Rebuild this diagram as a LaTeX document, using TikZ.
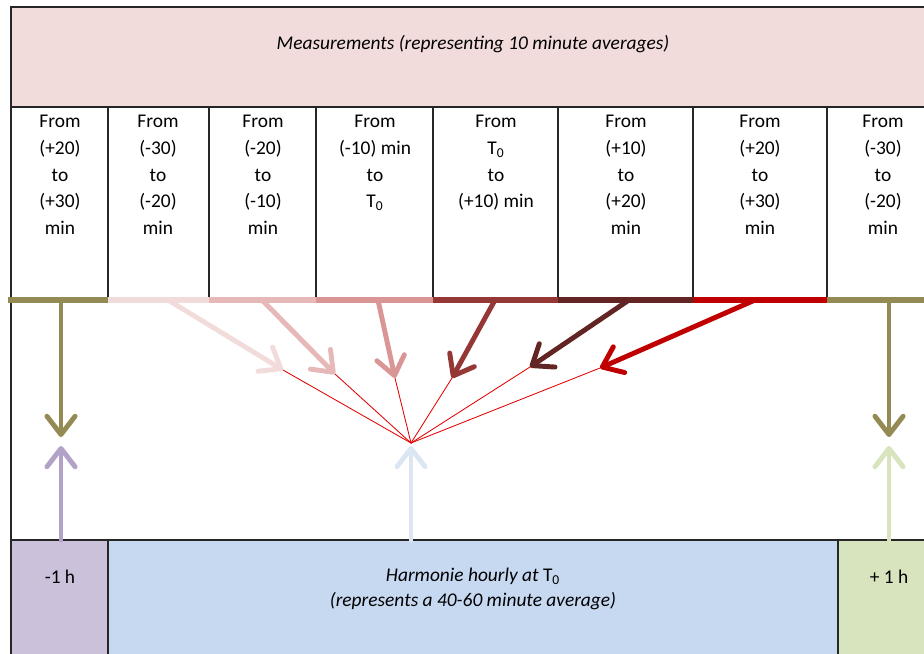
\documentclass[tikz,border=0pt]{standalone}
\usepackage{xcolor}
\usepackage{fontspec}
\setmainfont{Carlito}
\usepackage{tkz-euclide}
\usetikzlibrary{arrows.meta}

\definecolor{olivo}{HTML}{948A54}
\definecolor{rosaA}{HTML}{F2DCDB}
\definecolor{rosaB}{HTML}{E6B9B8}
\definecolor{rosaC}{HTML}{D99694}
\definecolor{rojoA}{HTML}{953735}
\definecolor{rojoB}{HTML}{632523}
\definecolor{rojoC}{HTML}{C00000}
\definecolor{lila}{HTML}{CCC1DA}
\definecolor{lilaF}{HTML}{B3A2C7}
\definecolor{azul}{HTML}{C6D9F1}
\definecolor{azulF}{HTML}{DCE6F2}
\definecolor{verde}{HTML}{D7E4BD}

\tikzset{
  caja/.style={draw=black!85, line width=0.8pt},
  texto/.style={font=\fontsize{13.8}{19}\selectfont, align=center, inner sep=0pt},
  barra/.style={line width=3.6pt},
  flecha/.style={line width=3.5pt, -{Straight Barb[length=13pt,width=20pt,round]}},
  rayo/.style={draw=red!90!black, line width=0.6pt},
}

\begin{document}
\begin{tikzpicture}[x=0.025cm, y=-0.025cm]
        \useasboundingbox (0,0) rectangle (924,653);

        % Paso 1: Dibuja las cajas de las mediciones
        \draw[caja, fill=rosaA] (11,7) rectangle (940,107);
        \draw[caja] (11,107) rectangle (108,300);
        \draw[caja] (108,107) rectangle (209,300);
        \draw[caja] (209,107) rectangle (316,300);
        \draw[caja] (316,107) rectangle (433,300);
        \draw[caja] (433,107) rectangle (558,300);
        \draw[caja] (558,107) rectangle (693,300);
        \draw[caja] (693,107) rectangle (827,300);
        \draw[caja] (827,107) rectangle (940,300);
        \draw[caja] (11,300) -- (11,540);

        % Paso 2: Dibuja las cajas del modelo
        \draw[caja, fill=lila] (11,540) rectangle (108,670);
        \draw[caja, fill=azul] (108,540) rectangle (838,670);
        \draw[caja, fill=verde] (838,540) rectangle (940,670);

        % Paso 3: Escribe los textos
        \node[texto, font=\fontsize{13.8}{19}\selectfont\itshape] (medidas) at (473,44)
          {Measurements (representing 10 minute averages)};
        \node[texto, anchor=north] (c1) at (60,115) {From\\(+20)\\to\\(+30)\\min};
        \node[texto, anchor=north] (c2) at (158,115) {From\\(-30)\\to\\(-20)\\min};
        \node[texto, anchor=north] (c3) at (263,115) {From\\(-20)\\to\\(-10)\\min};
        \node[texto, anchor=north] (c4) at (375,115) {From\\(-10) min\\to\\T\textsubscript{0}};
        \node[texto, anchor=north] (c5) at (496,115) {From\\T\textsubscript{0}\\to\\(+10) min};
        \node[texto, anchor=north] (c6) at (626,115) {From\\(+10)\\to\\(+20)\\min};
        \node[texto, anchor=north] (c7) at (760,115) {From\\(+20)\\to\\(+30)\\min};
        \node[texto, anchor=north] (c8) at (883,115) {From\\(-30)\\to\\(-20)\\min};
        \node[texto] (menos) at (60,577) {-1 h};
        \node[texto, font=\fontsize{13.8}{18}\selectfont\itshape] (harmonie) at (473,589)
          {Harmonie hourly at \textup{T\textsubscript{0}}\\(represents a 40-60 minute average)};
        \node[texto] (mas) at (889,577) {+ 1 h};

        % Paso 4: Dibuja la barra de colores
        \draw[barra, olivo] (8,300) -- (108,300);
        \draw[barra, rosaA] (108,300) -- (209,300);
        \draw[barra, rosaB] (209,300) -- (316,300);
        \draw[barra, rosaC] (316,300) -- (433,300);
        \draw[barra, rojoA] (433,300) -- (558,300);
        \draw[barra, rojoB] (558,300) -- (693,300);
        \draw[barra, rojoC] (693,300) -- (827,300);
        \draw[barra, olivo] (827,300) -- (940,300);

        % Paso 5: Define los puntos de las flechas
        \tkzDefPoint(411,443){T}
        \tkzDefPoint(168,300){A1} \tkzDefPoint(283,370){P1}
        \tkzDefPoint(262,300){A2} \tkzDefPoint(335,374){P2}
        \tkzDefPoint(378,300){A3} \tkzDefPoint(395,378){P3}
        \tkzDefPoint(495,300){A4} \tkzDefPoint(452,378){P4}
        \tkzDefPoint(629,300){A5} \tkzDefPoint(530,367){P5}
        \tkzDefPoint(755,300){A6} \tkzDefPoint(600,368){P6}
        \tkzDefPoint(61,300){O1}  \tkzDefPoint(61,437){Q1}
        \tkzDefPoint(889,300){O2} \tkzDefPoint(889,437){Q2}
        \tkzDefPoint(61,540){B1}  \tkzDefPoint(61,446){R1}
        \tkzDefPoint(411,540){B2} \tkzDefPoint(411,446){R2}
        \tkzDefPoint(889,540){B3} \tkzDefPoint(889,446){R3}

        % Paso 6: Dibuja los rayos finos hacia T
        \tkzDrawSegments[rayo](T,P1 T,P2 T,P3 T,P4 T,P5 T,P6)

        % Paso 7: Dibuja las flechas
        \tkzDrawSegment[flecha, rosaA](A1,P1)
        \tkzDrawSegment[flecha, rosaB](A2,P2)
        \tkzDrawSegment[flecha, rosaC](A3,P3)
        \tkzDrawSegment[flecha, rojoA](A4,P4)
        \tkzDrawSegment[flecha, rojoB](A5,P5)
        \tkzDrawSegment[flecha, rojoC](A6,P6)
        \tkzDrawSegments[flecha, olivo](O1,Q1 O2,Q2)
        \tkzDrawSegment[flecha, lilaF](B1,R1)
        \tkzDrawSegment[flecha, azulF](B2,R2)
        \tkzDrawSegment[flecha, verde](B3,R3)
    \end{tikzpicture}
\end{document}
